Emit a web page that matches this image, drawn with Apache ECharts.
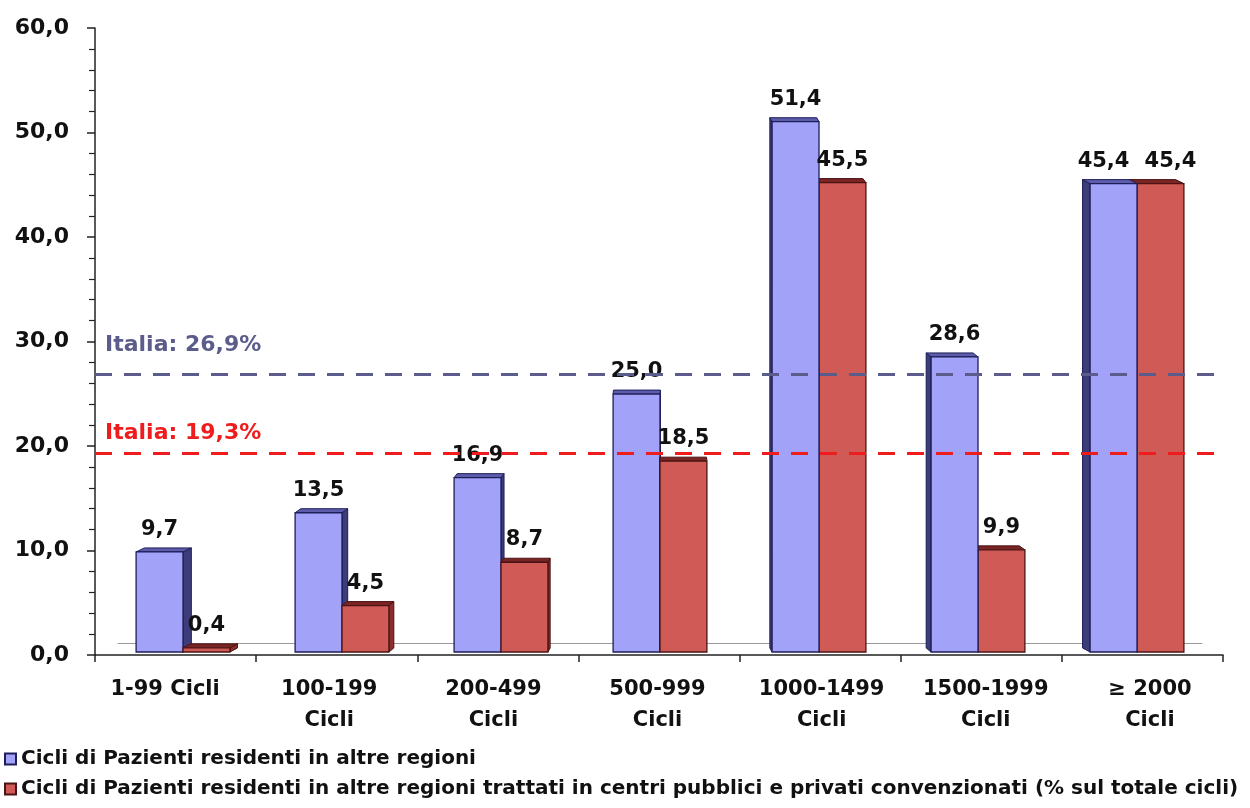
<!DOCTYPE html>
<html><head><meta charset="utf-8">
<script src="https://cdn.jsdelivr.net/npm/echarts@6/dist/echarts.min.js"></script>
<style>html,body{margin:0;padding:0;background:#fff}#c{width:1250px;height:808px}</style>
</head><body><div id="c"></div>
<script>
const categories = ['1-99 Cicli','100-199\nCicli','200-499\nCicli','500-999\nCicli','1000-1499\nCicli','1500-1999\nCicli','≥ 2000\nCicli'];
const seriesNames = ['Cicli di Pazienti residenti in altre regioni','Cicli di Pazienti residenti in altre regioni trattati in centri pubblici e privati convenzionati (% sul totale cicli)'];
const residentiAltre = [9.7, 13.5, 16.9, 25.0, 51.4, 28.6, 45.4];
const residentiConvenzionati = [0.4, 4.5, 8.7, 18.5, 45.5, 9.9, 45.4];
const italiaRefs = [26.9, 19.3];
const yMin = 0, yMax = 60, yStep = 10;

const FONT = "'DejaVu Sans', 'Liberation Sans', Arial, sans-serif";
const fmt = v => v.toFixed(1).replace('.', ',');
const palette = [
  {front:'#a2a2f8', side:'#3c3c7a', top:'#5c5cab', stroke:'#1e1e5a'},
  {front:'#d05a55', side:'#8c2c2c', top:'#7a2424', stroke:'#4a1414'}
];
const refColors = ['#5b5b8c', '#ee1c1c'];
const refLabelDist = [18, 9];

const pairData = categories.map((c, i) => [i, residentiAltre[i], residentiConvenzionati[i]]);

function renderPair(params, api) {
  const i = api.value(0);
  const vals = [api.value(1), api.value(2)];
  const cs = params.coordSys;
  const cx = cs.x + cs.width / 2;
  const band = api.size([1, 0])[0];
  const w = band * 0.295;
  const base = api.coord([i, 0]);
  const bars = vals.map((v, k) => {
    const x0 = base[0] - w + k * w;
    const x1 = x0 + w;
    const yTop = api.coord([i, v])[1];
    const yBase = base[1];
    const dx = -((x0 + x1) / 2 - cx) / 60;
    const dy = -4;
    return {k, v, x0, x1, yTop, yBase, dx, dy};
  });
  const order = (bars[0].dx + bars[1].dx) >= 0 ? [0, 1] : [1, 0];
  const children = [];
  order.forEach(k => {
    const b = bars[k];
    const p = palette[k];
    const sx = b.dx >= 0 ? b.x1 : b.x0;
    children.push({
      type: 'polygon',
      shape: {points: [[sx, b.yTop], [sx + b.dx, b.yTop + b.dy], [sx + b.dx, b.yBase + b.dy], [sx, b.yBase]]},
      style: {fill: p.side, stroke: p.stroke, lineWidth: 1}
    });
    children.push({
      type: 'polygon',
      shape: {points: [[b.x0, b.yTop], [b.x1, b.yTop], [b.x1 + b.dx, b.yTop + b.dy], [b.x0 + b.dx, b.yTop + b.dy]]},
      style: {fill: p.top, stroke: p.stroke, lineWidth: 1}
    });
    children.push({
      type: 'rect',
      shape: {x: b.x0, y: b.yTop, width: b.x1 - b.x0, height: b.yBase - b.yTop},
      style: {fill: p.front, stroke: p.stroke, lineWidth: 1.3}
    });
  });
  // spread the two labels apart when they sit at nearly the same height
  const close = Math.abs(bars[0].yTop - bars[1].yTop) < 25;
  const spread = close ? 10 : 0;
  bars.forEach((b, k) => {
    children.push({
      type: 'text',
      style: {
        text: fmt(b.v), x: (b.x0 + b.x1) / 2 + (k === 0 ? -spread : spread), y: b.yTop - 12,
        align: 'center', verticalAlign: 'bottom',
        font: 'bold 21px ' + FONT, fill: '#111'
      },
      z2: 10
    });
  });
  return {type: 'group', children};
}

const legendText = {fontSize: 20, fontWeight: 'bold', color: '#111', lineHeight: 24, fontFamily: FONT};

const chart = echarts.init(document.getElementById('c'), null, {renderer: 'canvas'});
chart.setOption({
  animation: false,
  backgroundColor: '#fff',
  textStyle: {fontFamily: FONT},
  grid: [
    {left: 103.5, right: 33.5, top: 33, bottom: 156},
    {left: 83, right: 18, top: 28, bottom: 153},
    {left: 95, right: 27, top: 28, bottom: 153},
    {left: 118, right: 48, top: 28, bottom: 165}
  ],
  xAxis: [
    {type: 'category', gridIndex: 0, data: categories, show: false},
    {type: 'category', gridIndex: 1, data: categories, axisLine: {show: false}, axisTick: {show: false},
     axisLabel: {fontSize: 21, fontWeight: 'bold', color: '#111', lineHeight: 31, margin: 19, interval: 0, fontFamily: FONT}},
    {type: 'category', gridIndex: 2, data: categories, axisLine: {lineStyle: {color: '#222', width: 1.5}},
     axisTick: {show: true, length: 7, lineStyle: {color: '#222', width: 1.5}}, axisLabel: {show: false}},
    {type: 'category', gridIndex: 3, data: categories, axisLine: {lineStyle: {color: '#9a9a9a', width: 1}},
     axisTick: {show: false}, axisLabel: {show: false}}
  ],
  yAxis: [
    {type: 'value', gridIndex: 0, min: yMin, max: yMax, interval: yStep, show: false, splitLine: {show: false}},
    {type: 'value', gridIndex: 1, min: yMin, max: yMax, interval: yStep, show: false, splitLine: {show: false}},
    {type: 'value', gridIndex: 2, min: yMin, max: yMax, interval: yStep,
     axisLine: {show: true, lineStyle: {color: '#222', width: 1.5}},
     axisTick: {show: true, inside: false, length: 8, lineStyle: {color: '#222', width: 1.5}},
     minorTick: {show: true, splitNumber: 5, length: 6, lineStyle: {color: '#222', width: 1.2}},
     splitLine: {show: false},
     axisLabel: {fontSize: 22, fontWeight: 'bold', color: '#111', margin: 26, formatter: v => fmt(v), fontFamily: FONT}},
    {type: 'value', gridIndex: 3, min: yMin, max: yMax, interval: yStep, show: false, splitLine: {show: false}}
  ],
  legend: [
    {orient: 'vertical', left: 4, top: 747, itemWidth: 11, itemHeight: 11, padding: 0,
     data: [{name: seriesNames[0], icon: 'rect'}], textStyle: legendText},
    {orient: 'vertical', left: 4, top: 777, itemWidth: 11, itemHeight: 11, padding: 0,
     data: [{name: seriesNames[1], icon: 'rect'}], textStyle: legendText}
  ],
  series: [
    {
      type: 'custom', name: 'pair', xAxisIndex: 0, yAxisIndex: 0,
      data: pairData, renderItem: renderPair,
      encode: {x: 0, y: [1, 2]}, z: 3
    },
    {
      type: 'bar', name: seriesNames[0], xAxisIndex: 2, yAxisIndex: 2, data: [],
      itemStyle: {color: palette[0].front, borderColor: palette[0].stroke, borderWidth: 1},
      z: 5,
      markLine: {
        silent: true, symbol: ['none', 'none'],
        data: italiaRefs.map((v, k) => ({
          yAxis: v,
          lineStyle: {color: refColors[k], width: 3, type: [17, 12]},
          label: {show: true, position: 'insideStartTop', distance: [10, refLabelDist[k]],
                  formatter: 'Italia: ' + fmt(v) + '%', color: refColors[k],
                  fontSize: 22, fontWeight: 'bold', fontFamily: FONT}
        }))
      }
    },
    {
      type: 'bar', name: seriesNames[1], xAxisIndex: 2, yAxisIndex: 2, data: [],
      itemStyle: {color: palette[1].front, borderColor: palette[1].stroke, borderWidth: 1}
    }
  ]
});
</script></body></html>
